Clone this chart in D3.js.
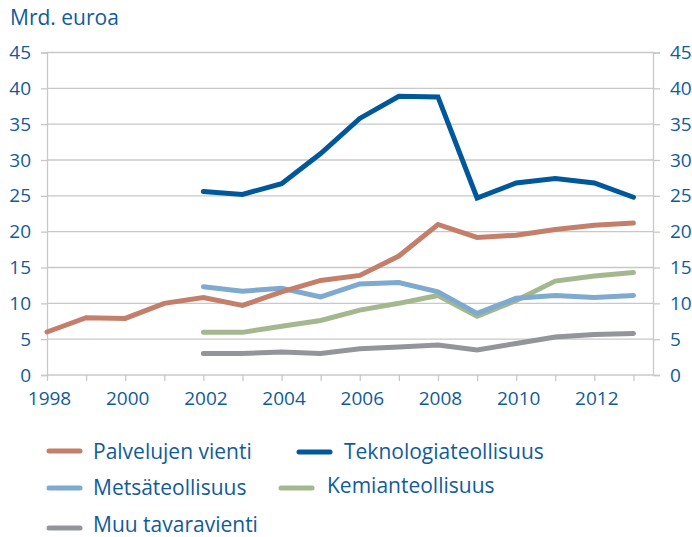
<!DOCTYPE html>
<html><head><meta charset="utf-8">
<script src="https://cdn.jsdelivr.net/npm/d3@7"></script>
<style>
html,body{margin:0;padding:0;background:#fff;}
svg{display:block;font-family:"Open Sans",sans-serif;}
</style></head>
<body><svg id="c" width="692" height="537"></svg>
<script>
const years = [1998,1999,2000,2001,2002,2003,2004,2005,2006,2007,2008,2009,2010,2011,2012,2013];
const palvelujen = [6.0,8.0,7.9,10.0,10.8,9.7,11.6,13.2,13.9,16.6,21.0,19.2,19.5,20.3,20.9,21.2];
const teknologia = [null,null,null,null,25.6,25.2,26.7,30.9,35.8,38.9,38.8,24.7,26.8,27.4,26.8,24.8];
const metsa = [null,null,null,null,12.3,11.7,12.1,10.9,12.7,12.9,11.6,8.6,10.7,11.1,10.8,11.1];
const kemia = [null,null,null,null,5.95,5.95,6.8,7.6,9.05,10.0,11.1,8.2,10.4,13.1,13.8,14.3];
const muu = [null,null,null,null,3.0,3.0,3.2,3.0,3.65,3.9,4.2,3.5,4.4,5.3,5.65,5.8];
const yTicks = [0,5,10,15,20,25,30,35,40,45];
const xLabelYears = [1998,2000,2002,2004,2006,2008,2010,2012];
const seriesNames = ["Palvelujen vienti","Teknologiateollisuus","Metsäteollisuus","Kemianteollisuus","Muu tavaravienti"];
const seriesColors = ["#c47f6b","#00589b","#7eaad0","#a3b88e","#939598"];
const seriesData = [palvelujen, teknologia, metsa, kemia, muu];
const unitLabel = "Mrd. euroa";

const textColor = "#115b9b";
const gridColor = "#c8c8c8";
const svg = d3.select("#c");
const x = d3.scaleLinear().domain([1998, 2013.5]).range([47, 653]);
const y = d3.scaleLinear().domain([0, 45]).range([375, 52.5]);

// gridlines
svg.append("g").selectAll("line").data(yTicks.filter(d=>d>0)).join("line")
  .attr("x1", x(1998)).attr("x2", x(2013.5))
  .attr("y1", d=>y(d)).attr("y2", d=>y(d))
  .attr("stroke", gridColor).attr("stroke-width", 1.3);

// left axis
const left = svg.append("g").attr("transform", `translate(${x(1998)},0)`)
  .call(d3.axisLeft(y).tickValues(yTicks).tickSize(6).tickPadding(10));
// right axis
const right = svg.append("g").attr("transform", `translate(${x(2013.5)},0)`)
  .call(d3.axisRight(y).tickValues(yTicks).tickSize(7).tickPadding(10));
// bottom axis
const bottom = svg.append("g").attr("transform", `translate(0,${y(0)})`)
  .call(d3.axisBottom(x).tickValues(years).tickSize(6).tickPadding(11)
    .tickFormat(d => xLabelYears.includes(d) ? d : ""));
[left,right,bottom].forEach(g=>{
  g.select(".domain").attr("stroke", gridColor).attr("stroke-width",1.3);
  g.selectAll(".tick line").attr("stroke", gridColor).attr("stroke-width",1.3);
  g.selectAll(".tick text").attr("fill", textColor).style("font-size","19px").style("font-family","'Open Sans',sans-serif");
});
bottom.select(".domain").attr("d", `M${x(1998)},0H${x(2013.5)}`);
bottom.selectAll(".tick text").attr("dx", 2);

// unit label
svg.append("text").attr("x", 10).attr("y", 25).text(unitLabel)
  .attr("fill", textColor).style("font-size","21px");

// lines
const line = d3.line().defined(d=>d.v!=null).x(d=>x(d.yr)).y(d=>y(d.v));
const drawOrder = [4,3,2,0,1];
drawOrder.forEach(i=>{
  const pts = years.map((yr,j)=>({yr, v: seriesData[i][j]}));
  svg.append("path").datum(pts).attr("d", line)
    .attr("fill","none").attr("stroke", seriesColors[i]).attr("stroke-width",5)
    .attr("stroke-linejoin","miter").attr("stroke-linecap","round");
});

// legend
const legendPos = [
  {sx:49, sy:451, tx:93, ty:459},
  {sx:299, sy:452, tx:344, ty:459},
  {sx:49, sy:488, tx:93, ty:495},
  {sx:281, sy:488, tx:327, ty:493},
  {sx:49, sy:528, tx:93, ty:532}
];
seriesNames.forEach((name,i)=>{
  const p = legendPos[i];
  svg.append("line").attr("x1",p.sx).attr("x2",p.sx+31).attr("y1",p.sy).attr("y2",p.sy)
    .attr("stroke",seriesColors[i]).attr("stroke-width",5).attr("stroke-linecap","round");
  svg.append("text").attr("x",p.tx).attr("y",p.ty).text(name)
    .attr("fill",textColor).style("font-size","21px");
});
</script></body></html>
